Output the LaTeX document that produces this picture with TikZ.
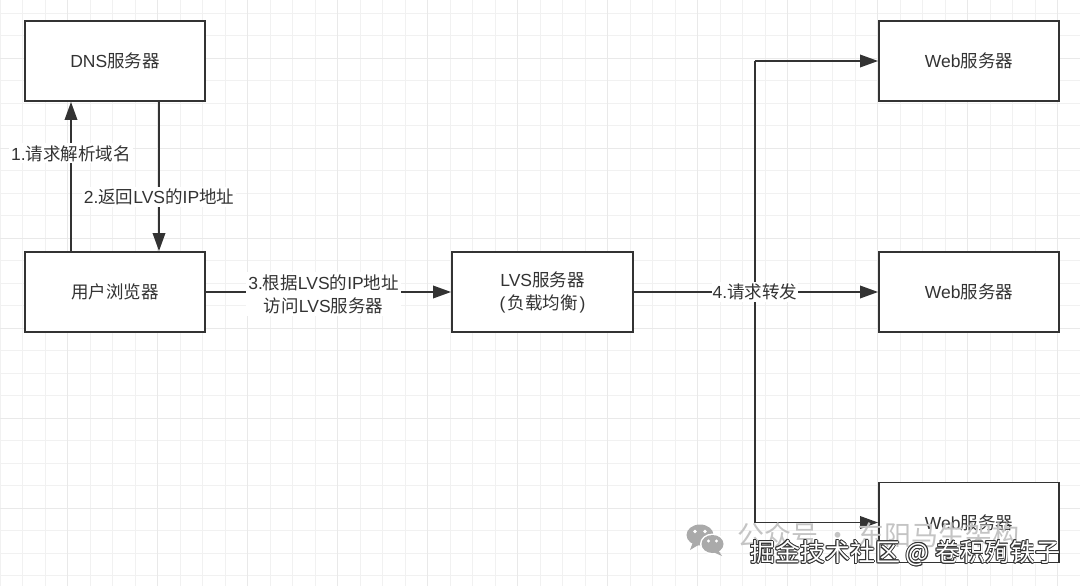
\documentclass[tikz,border=0pt]{standalone}
\usepackage{fontspec}
\setmainfont{Liberation Sans}
\newfontfamily\cjk{Noto Sans CJK SC}
\newcommand\zh[1]{{\cjk #1}}
\usetikzlibrary{arrows.meta}
\definecolor{ink}{HTML}{333333}
\definecolor{gthin}{HTML}{F1F1F1}
\definecolor{gthick}{HTML}{E9E9E9}
\definecolor{wmgray}{HTML}{C4C4C4}
\definecolor{wechat}{HTML}{AAAAAA}
\tikzset{
  gridthin/.style={gthin, line width=1.3pt},
  gridthick/.style={gthick, line width=1.5pt},
  box/.style={draw=ink, line width=1.8pt, fill=white, minimum width=180pt, minimum height=80pt, inner sep=0pt, text=ink, font=\fontsize{17.5}{23}\selectfont, align=center},
  conn/.style={draw=ink, line width=1.8pt},
  arr/.style={conn, -{Triangle[length=18pt,width=12.5pt]}},
  lbl/.style={fill=white, text=ink, font=\fontsize{17.5}{23}\selectfont, inner sep=2pt, align=center}
}
\begin{document}
\begin{tikzpicture}[x=1pt,y=-1pt]
\useasboundingbox (0,0) rectangle (1080,586);
\fill[white] (0,0) rectangle (1080,586);
% grid
\foreach \i in {-3,...,45} { \draw[gridthin] ({67.7+22.5*\i},0) -- ({67.7+22.5*\i},586); }
\foreach \i in {-3,...,24} { \draw[gridthin] (0,{58.3+22.5*\i}) -- (1080,{58.3+22.5*\i}); }
\foreach \i in {-1,...,12} { \draw[gridthick] ({67.7+90*\i},0) -- ({67.7+90*\i},586); }
\foreach \i in {-1,...,6} { \draw[gridthick] (0,{58.3+90*\i}) -- (1080,{58.3+90*\i}); }

% nodes
\node[box] (dns) at (115,61) {DNS\zh{服务器}};
\node[box] (ua) at (115,292) {\zh{用户浏览器}};
\node[box, minimum width=181pt] (lvs) at (542.5,292) {LVS\zh{服务器}\\(\hspace{2pt}\zh{负载均衡}\hspace{2pt})};
\node[box] (w1) at (969,61) {Web\zh{服务器}};
\node[box] (w2) at (969,292) {Web\zh{服务器}};
\node[box] (w3) at (969,522.5) {Web\zh{服务器}};

% DNS query / reply
\draw[arr] ([xshift=-44pt]ua.north) -- node[lbl, pos=0.655] {1.\zh{请求解析域名}} ([xshift=-44pt]dns.south);
\draw[arr] ([xshift=44pt]dns.south) -- node[lbl, pos=0.635] {2.\zh{返回}LVS\zh{的}IP\zh{地址}} ([xshift=44pt]ua.north);

% browser to LVS
\draw[arr] (ua.east) -- node[lbl, pos=0.48, yshift=-2pt] {3.\zh{根据}LVS\zh{的}IP\zh{地址}\\\zh{访问}LVS\zh{服务器}} (lvs.west);

% fan-out
\path (w1.west) ++(-123,0) coordinate (jt);
\path (w3.west) ++(-123,0) coordinate (jb);
\draw[conn] (jt) -- (jb);
\draw[arr] (jt) -- (w1.west);
\draw[arr] (jb) -- (w3.west);
\draw[arr] (lvs.east) -- node[lbl, pos=0.496, inner xsep=1pt] {4.\zh{请求转发}} (w2.west);

% watermark
\fill[wechat] (700,535) ellipse [x radius=13.5, y radius=10.5];
\fill[wechat] (693,542) -- (690,550) -- (700,544) -- cycle;
\fill[white] (712.5,544) ellipse [x radius=12.5, y radius=10.5];
\fill[wechat] (712.5,544) ellipse [x radius=11, y radius=9];
\fill[wechat] (718,550) -- (722,556) -- (713,552) -- cycle;
\fill[white] (695,531.5) circle (1.8) (705,531.5) circle (1.8);
\fill[white] (708.5,541) circle (1.6) (716.5,541) circle (1.6);
\node[anchor=west, text=wmgray, inner sep=0pt, font=\fontsize{27}{30}\selectfont] (wm1) at (737,535) {\zh{公众号 · 东阳马生架构}};
\foreach \dx/\dy in {-0.9/0,0.9/0,0/-0.9,0/0.9,-0.7/-0.7,0.7/0.7,-0.7/0.7,0.7/-0.7} {
  \node[anchor=west, text=black!80, inner sep=0pt, font=\fontsize{25}{28}\selectfont] at ({750+\dx},{553+\dy}) {\zh{掘金技术社区 @ 卷积殉铁子}};
}
\node[anchor=west, text=white, inner sep=0pt, font=\fontsize{25}{28}\selectfont] (wm2) at (750,553) {\zh{掘金技术社区 @ 卷积殉铁子}};
\end{tikzpicture}
\end{document}
